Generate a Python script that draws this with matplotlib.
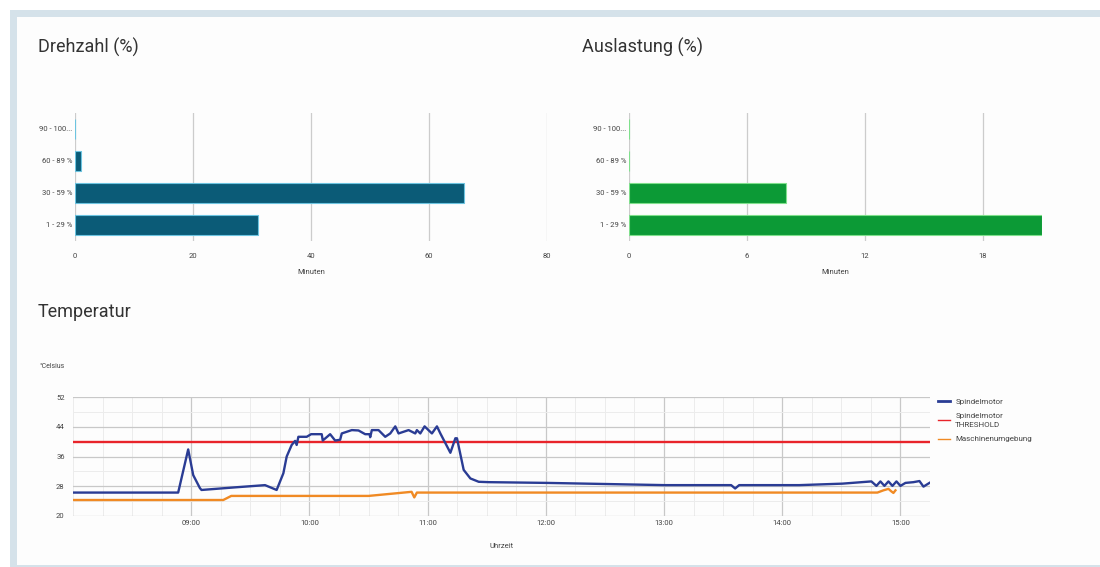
import matplotlib
matplotlib.use("Agg")
import matplotlib.pyplot as plt
import matplotlib.dates as mdates
from matplotlib.patches import Rectangle
import pandas as pd

plt.rcParams['font.family'] = ['Roboto', 'DejaVu Sans']

# ---------------- data ----------------
categories = ["1 - 29 %", "30 - 59 %", "60 - 89 %", "90 - 100..."]
drehzahl_min = [31, 66, 1, 0]
auslastung_min = [21, 8, 0, 0]
drehzahl_ticks = [0, 20, 40, 60, 80]
auslastung_ticks = [0, 6, 12, 18]

spindel_times = ["08:00:00", "08:53:23", "08:58:28", "09:01:01", "09:04:25", "09:05:14",
                 "09:22:13", "09:37:28", "09:43:22", "09:46:47", "09:48:28", "09:51:00",
                 "09:52:44", "09:53:32", "09:54:24", "09:58:38", "10:00:52", "10:06:15",
                 "10:06:46", "10:08:47", "10:10:31", "10:13:03", "10:15:36", "10:16:25",
                 "10:21:31", "10:24:55", "10:28:19", "10:30:30", "10:30:52", "10:31:41",
                 "10:35:05", "10:38:29", "10:41:02", "10:43:35", "10:45:15", "10:50:20",
                 "10:53:44", "10:54:33", "10:56:17", "10:58:28", "11:02:11", "11:04:44",
                 "11:06:28", "11:11:33", "11:14:05", "11:14:54", "11:18:18", "11:21:42",
                 "11:25:56", "11:31:01", "12:00:30", "13:00:30", "13:34:04", "13:36:06",
                 "13:38:08", "14:08:39", "14:30:30", "14:45:15", "14:47:48", "14:49:50",
                 "14:51:52", "14:53:54", "14:55:56", "14:57:58", "15:00:00", "15:02:32",
                 "15:06:36", "15:09:39", "15:11:41", "15:14:44"]
spindel_temp = [26.3, 26.3, 37.9, 31.0, 27.5, 27.0,
                27.7, 28.3, 27.0, 31.5, 36.0, 39.1,
                40.2, 39.1, 41.3, 41.3, 42.0, 42.0,
                40.3, 41.2, 42.0, 40.3, 40.5, 42.2,
                43.1, 43.0, 42.0, 42.0, 41.2, 43.1,
                43.1, 41.3, 42.2, 44.1, 42.2, 43.1,
                42.2, 43.1, 42.2, 44.1, 42.2, 44.1,
                42.2, 37.0, 40.9, 40.9, 32.4, 30.1,
                29.2, 29.1, 28.9, 28.3, 28.3, 27.4,
                28.3, 28.3, 28.7, 29.3, 28.1, 29.3,
                28.1, 29.3, 28.1, 29.3, 28.1, 28.9,
                29.1, 29.4, 27.9, 28.9]

threshold_times = ["08:00:00", "15:15:00"]
threshold_temp = [40, 40]

umgebung_times = ["08:00:00", "09:16:16", "09:20:20", "10:30:00", "10:51:52", "10:53:14",
                  "10:54:33", "14:48:18", "14:51:21", "14:53:54", "14:55:25", "14:56:26",
                  "14:57:28"]
umgebung_temp = [24.3, 24.3, 25.4, 25.4, 26.5, 25.0,
                 26.3, 26.3, 26.9, 27.3, 26.6, 26.2,
                 26.9]

temp_ticks = [20, 28, 36, 44, 52]
hour_ticks = ["09:00", "10:00", "11:00", "12:00", "13:00", "14:00", "15:00"]

DAY = "2020-01-01 "
def to_dt(lst):
    return pd.to_datetime([DAY + t for t in lst])

# ---------------- figure ----------------
W, H = 1100, 567
fig = plt.figure(figsize=(W / 100, H / 100), dpi=100)
fig.patch.set_facecolor("white")

def px_rect(x0, y0, x1, y1, color, z):
    fig.patches.append(Rectangle((x0 / W, 1 - y1 / H), (x1 - x0) / W, (y1 - y0) / H,
                                 transform=fig.transFigure, facecolor=color,
                                 edgecolor="none", zorder=z))

frame = "#d5e2ea"
px_rect(10, 10, 1100, 567, frame, -10)
px_rect(17, 17, 1100, 565, "#fdfdfd", -9)

def ax_px(x0, y0, x1, y1):
    return fig.add_axes([x0 / W, 1 - y1 / H, (x1 - x0) / W, (y1 - y0) / H])

tick_col = "#444444"
grid_col = "#cccccc"

def bar_axes(ax, vals, ticks, xmax, color, edge):
    ax.set_facecolor("none")
    ypos = list(range(len(categories)))
    ax.barh(ypos, vals, height=0.64, color=color, edgecolor=edge, linewidth=0.8, zorder=3)
    ax.set_xlim(0, xmax)
    ax.set_ylim(-0.5, len(categories) - 0.5)
    ax.set_xticks(ticks)
    ax.set_xticklabels([str(t) for t in ticks])
    ax.set_yticks(ypos)
    ax.set_yticklabels(categories)
    ax.tick_params(axis="both", length=0, labelsize=5.5, colors=tick_col)
    ax.tick_params(axis="x", pad=9)
    ax.tick_params(axis="y", pad=2)
    for s in ax.spines.values():
        s.set_visible(False)
    ax.grid(axis="x", color=grid_col, linewidth=0.9, zorder=0)
    ax.set_axisbelow(True)
    ax.set_xlabel("Minuten", fontsize=5.5, color=tick_col, labelpad=7)

ax1 = ax_px(75, 113, 547, 241)
bar_axes(ax1, drehzahl_min, drehzahl_ticks, 80, "#0b5b77", "#6cc4e0")
ax2 = ax_px(629, 113, 1042, 241)
bar_axes(ax2, auslastung_min, auslastung_ticks, 21, "#0c9a36", "#7fe08c")

fig.text(38 / W, 1 - 47 / H, "Drehzahl (%)", fontsize=13, color="#333333", va="center", ha="left")
fig.text(582 / W, 1 - 47 / H, "Auslastung (%)", fontsize=13, color="#333333", va="center", ha="left")
fig.text(38 / W, 1 - 312 / H, "Temperatur", fontsize=13, color="#333333", va="center", ha="left")
fig.text(40 / W, 1 - 367 / H, "°Celsius", fontsize=5, color=tick_col, va="center", ha="left")

# ---------------- temperature ----------------
ax3 = ax_px(73, 397, 930, 516)
ax3.set_facecolor("none")
ax3.plot(to_dt(spindel_times), spindel_temp, color="#2a3c94", linewidth=1.7,
         label="Spindelmotor", zorder=4)
ax3.plot(to_dt(threshold_times), threshold_temp, color="#e8242a", linewidth=1.7,
         label="Spindelmotor\nTHRESHOLD", zorder=3)
ax3.plot(to_dt(umgebung_times), umgebung_temp, color="#f08a24", linewidth=1.7,
         label="Maschinenumgebung", zorder=3)

ax3.set_xlim(pd.Timestamp(DAY + "08:00:00"), pd.Timestamp(DAY + "15:15:00"))
ax3.set_ylim(20, 52)
ax3.set_yticks(temp_ticks)
ax3.set_yticks([24, 32, 40, 48], minor=True)
ax3.set_xticks(to_dt([h + ":00" for h in hour_ticks]))
ax3.xaxis.set_major_formatter(mdates.DateFormatter("%H:%M"))
ax3.xaxis.set_minor_locator(mdates.MinuteLocator(byminute=[0, 15, 30, 45]))
ax3.tick_params(axis="both", which="both", length=0, labelsize=5.5, colors=tick_col)
ax3.tick_params(axis="x", pad=3)
ax3.tick_params(axis="y", pad=6)
for s in ax3.spines.values():
    s.set_visible(False)
ax3.grid(which="major", color="#c8c8c8", linewidth=0.9, zorder=0)
ax3.grid(which="minor", color="#ececec", linewidth=0.7, zorder=0)
ax3.set_axisbelow(True)
ax3.set_xlabel("Uhrzeit", fontsize=5.5, color=tick_col, labelpad=12)

handles, labels = ax3.get_legend_handles_labels()
leg_widths = [2.0, 1.0, 1.0]
leg = ax3.legend(handles, labels, loc="upper left", bbox_to_anchor=(1.005, 1.015),
                 frameon=False, fontsize=5.8, handlelength=1.6, handletextpad=0.6,
                 labelspacing=1.0, borderaxespad=0)
for ln, w in zip(leg.get_lines(), leg_widths):
    ln.set_linewidth(w)
for t in leg.get_texts():
    t.set_color(tick_col)
    t.set_linespacing(1.5)

fig.savefig("out.png", dpi=100)
